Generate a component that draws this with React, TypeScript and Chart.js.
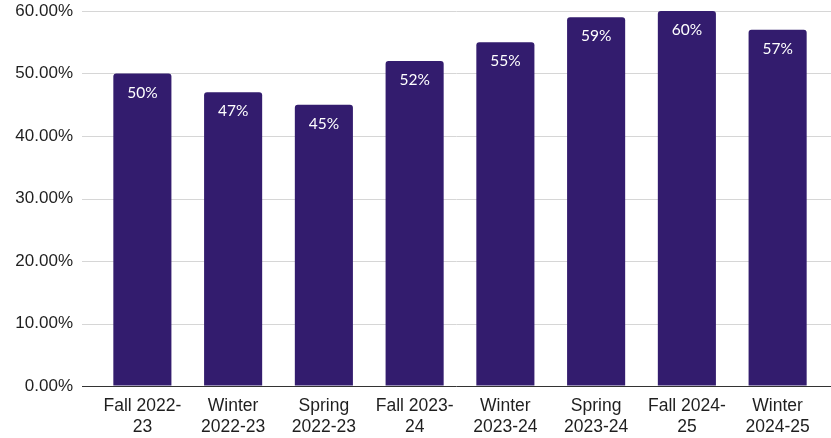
import React, { useEffect, useRef } from "react";
import { Chart, registerables } from "chart.js";

Chart.register(...registerables);

const categories: string[][] = [
  ["Fall 2022-", "23"],
  ["Winter", "2022-23"],
  ["Spring", "2022-23"],
  ["Fall 2023-", "24"],
  ["Winter", "2023-24"],
  ["Spring", "2023-24"],
  ["Fall 2024-", "25"],
  ["Winter", "2024-25"],
];
const values: number[] = [0.5, 0.47, 0.45, 0.52, 0.55, 0.59, 0.6, 0.57];
const yTicks: number[] = [0, 0.1, 0.2, 0.3, 0.4, 0.5, 0.6];

const GRID = "#d6d6d6";

const gridLines = {
  id: "gridLines",
  beforeDatasetsDraw(chart: any) {
    const ctx = chart.ctx;
    const y = chart.scales.y;
    ctx.save();
    ctx.strokeStyle = GRID;
    ctx.lineWidth = 1;
    yTicks.forEach((v) => {
      if (v === 0) return;
      const py = Math.round(y.getPixelForValue(v)) + 0.5;
      ctx.beginPath();
      ctx.moveTo(y.right - 15, py);
      ctx.lineTo(chart.width, py);
      ctx.stroke();
    });
    ctx.restore();
  },
  afterDatasetsDraw(chart: any) {
    const ctx = chart.ctx;
    const y = chart.scales.y;
    const py = Math.round(y.getPixelForValue(0)) + 0.5;
    ctx.save();
    ctx.strokeStyle = "#333333";
    ctx.lineWidth = 1;
    ctx.beginPath();
    ctx.moveTo(y.right - 15, py);
    ctx.lineTo(chart.width, py);
    ctx.stroke();
    ctx.restore();
  },
};

const barLabels = {
  id: "barLabels",
  afterDatasetsDraw(chart: any) {
    const ctx = chart.ctx;
    const meta = chart.getDatasetMeta(0);
    ctx.save();
    ctx.fillStyle = "#ffffff";
    ctx.font = "15.5px Lato, 'Open Sans', sans-serif";
    ctx.textAlign = "center";
    ctx.textBaseline = "middle";
    meta.data.forEach((bar: any, i: number) => {
      ctx.fillText(Math.round(values[i] * 100) + "%", bar.x, bar.y + 19);
    });
    ctx.restore();
  },
};

export default function App() {
  const ref = useRef<HTMLCanvasElement | null>(null);
  useEffect(() => {
    document.body.style.margin = "0";
    const chart = new Chart(ref.current!, {
      type: "bar",
      data: {
        labels: categories,
        datasets: [
          {
            data: values,
            backgroundColor: "#331c6e",
            borderRadius: { topLeft: 3, topRight: 3, bottomLeft: 0, bottomRight: 0 },
            borderSkipped: "bottom",
            categoryPercentage: 1,
            barPercentage: 0.64,
          },
        ],
      },
      options: {
        responsive: false,
        animation: false,
        devicePixelRatio: 1,
        layout: { padding: { top: 11, right: 8, left: 0, bottom: 0 } },
        plugins: { legend: { display: false }, tooltip: { enabled: false } },
        scales: {
          x: {
            grid: { display: false, drawTicks: false },
            border: { display: false },
            afterFit: (axis: any) => {
              axis.height = 52;
              axis.paddingLeft = 0;
              axis.paddingRight = 0;
            },
            ticks: {
              color: "#1f1f1f",
              font: { family: "'Liberation Sans', Arial, sans-serif", size: 17.5 },
              padding: 10,
              maxRotation: 0,
              autoSkip: false,
            },
          },
          y: {
            min: 0,
            max: 0.6,
            afterBuildTicks: (axis: any) => {
              axis.ticks = yTicks.map((v) => ({ value: v }));
            },
            afterFit: (axis: any) => {
              axis.width = 97;
              axis.paddingTop = 0;
              axis.paddingBottom = 0;
            },
            grid: {
              color: "rgba(0,0,0,0)",
              tickLength: 15,
              tickColor: "rgba(0,0,0,0)",
            },
            border: { display: false },
            ticks: {
              color: "#1f1f1f",
              font: { family: "'Liberation Sans', Arial, sans-serif", size: 17 },
              padding: 9,
              callback: (v: any) => (Number(v) * 100).toFixed(2) + "%",
            },
          },
        },
      },
      plugins: [gridLines, barLabels],
    });
    return () => chart.destroy();
  }, []);
  return <canvas ref={ref} width={831} height={438} style={{ display: "block" }} />;
}
